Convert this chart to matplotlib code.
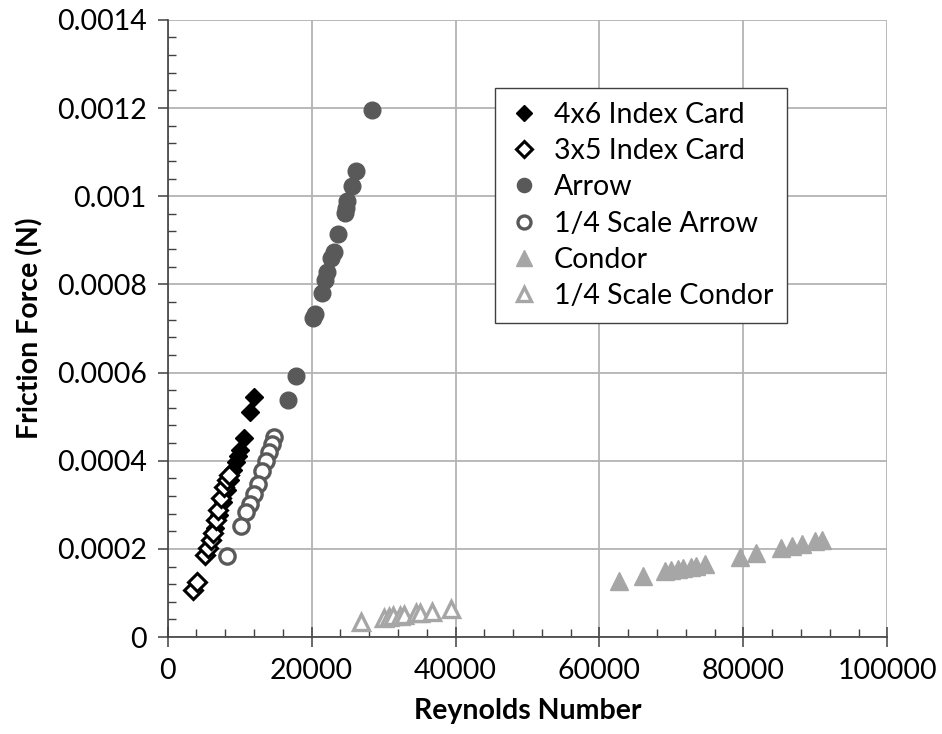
import numpy as np
import matplotlib
matplotlib.use('Agg')
import matplotlib.pyplot as plt
from matplotlib.ticker import MultipleLocator

plt.rcParams['font.family'] = ['Lato', 'DejaVu Sans']

# data
card46_x = [11940, 11390, 10560, 10000, 9720, 9440, 9030, 8610, 8190, 7640, 7080, 6530, 5970]
card46_y = [0.000545, 0.000511, 0.000452, 0.000425, 0.000411, 0.000397, 0.000379,
            0.000356, 0.000334, 0.000306, 0.000277, 0.000247, 0.00022]

card35_x = [3470, 4030, 5140, 5560, 5970, 6250, 6670, 6940, 7360, 7780, 8190, 8470]
card35_y = [0.000107, 0.000125, 0.000186, 0.000202, 0.00022, 0.000236, 0.000266,
            0.000288, 0.000316, 0.000341, 0.000356, 0.000368]

arrow_x = [28330, 26110, 25560, 24860, 24720, 24580, 23610, 23060, 22640, 22080,
           21810, 21390, 20420, 20140, 17780, 16670]
arrow_y = [0.001196, 0.001056, 0.001022, 0.000988, 0.000974, 0.000963, 0.000915,
           0.000874, 0.00086, 0.000829, 0.00081, 0.000781, 0.000733, 0.000724,
           0.000592, 0.000538]

qarrow_x = [14720, 14440, 14030, 13610, 13060, 12500, 11940, 11390, 10830, 10140, 8190]
qarrow_y = [0.000454, 0.000438, 0.00042, 0.0004, 0.000377, 0.000347, 0.000325,
            0.000302, 0.000284, 0.000252, 0.000184]

condor_x = [62780, 66110, 69170, 70000, 70970, 71670, 72780, 73470, 74720,
            79580, 81810, 85280, 86810, 88190, 90000, 90970]
condor_y = [0.000127, 0.000138, 0.00015, 0.000152, 0.000154, 0.000157, 0.000159,
            0.000161, 0.000166, 0.000182, 0.000191, 0.000202, 0.000207, 0.000211,
            0.000218, 0.00022]

qcondor_x = [26800, 30000, 30690, 31250, 32220, 32780, 34440, 35000, 36670, 39310]
qcondor_y = [0.000034, 0.000043, 0.000045, 0.000048, 0.000048, 0.00005, 0.000054,
             0.000054, 0.000057, 0.000064]

dark = '#595959'
light = '#a6a6a6'

fig = plt.figure(figsize=(9.42, 7.34), dpi=100)
ax = fig.add_axes([0.178, 0.132, 0.764, 0.841])

ax.plot(card46_x, card46_y, 'D', color='black', markersize=9, label='4x6 Index Card')
ax.plot(card35_x, card35_y, 'D', mfc='white', mec='black', mew=2.2, markersize=9.5,
        label='3x5 Index Card')
ax.plot(arrow_x, arrow_y, 'o', color=dark, markersize=12, label='Arrow')
ax.plot(qarrow_x, qarrow_y, 'o', mfc='white', mec=dark, mew=2.4, markersize=11,
        label='1/4 Scale Arrow')
ax.plot(condor_x, condor_y, '^', color=light, markersize=13, label='Condor')
ax.plot(qcondor_x, qcondor_y, '^', mfc='white', mec=light, mew=2.4, markersize=12,
        label='1/4 Scale Condor')

ax.set_xlim(0, 100000)
ax.set_ylim(0, 0.0014)
ax.set_xticks([0, 20000, 40000, 60000, 80000, 100000])
ax.set_yticks([0, 0.0002, 0.0004, 0.0006, 0.0008, 0.001, 0.0012, 0.0014])
ax.set_yticklabels(['0', '0.0002', '0.0004', '0.0006', '0.0008', '0.001', '0.0012', '0.0014'])
ax.xaxis.set_minor_locator(MultipleLocator(4000))
ax.yaxis.set_minor_locator(MultipleLocator(0.00004))

ax.grid(True, which='major', color='#b3b3b3', linewidth=1.3)
ax.set_axisbelow(True)
for s in ['top', 'right']:
    ax.spines[s].set_visible(False)
for s in ['left', 'bottom']:
    ax.spines[s].set_color('#404040')
    ax.spines[s].set_linewidth(1.2)

ax.tick_params(axis='x', which='major', direction='inout', length=14, width=1.1,
               labelsize=20.5, pad=8, color='#404040')
ax.tick_params(axis='y', which='major', direction='out', length=7, width=1.1,
               labelsize=20.5, pad=8, color='#404040')
ax.tick_params(which='minor', direction='in', length=6, width=1, color='#404040')

ax.set_xlabel('Reynolds Number', fontsize=20.5, fontweight='bold', labelpad=10)
ax.set_ylabel('Friction Force (N)', fontsize=20.5, fontweight='bold', labelpad=10)

leg = ax.legend(loc='upper left', bbox_to_anchor=(0.455, 0.89), borderaxespad=0,
                fontsize=20.5, frameon=True, fancybox=False, edgecolor='#404040',
                framealpha=1, handletextpad=0.55, handlelength=1.0, borderpad=0.5,
                labelspacing=0.36, markerscale=0.85)
leg.get_frame().set_linewidth(1.0)

fig.savefig('out.png', dpi=100)
